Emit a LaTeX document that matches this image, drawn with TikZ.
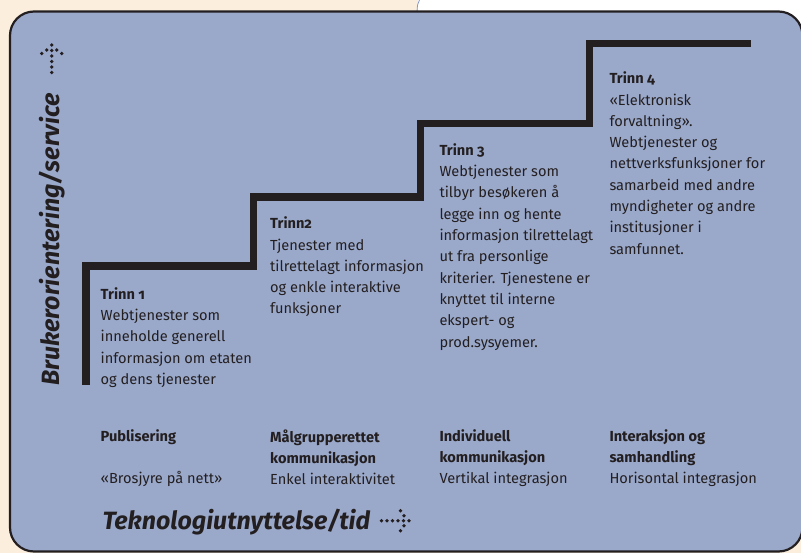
\documentclass[tikz,border=0pt]{standalone}
\usepackage{fontspec}
\setmainfont{Fira Sans}[Numbers=OldStyle]
\definecolor{inkc}{HTML}{231F20}
\definecolor{boxc}{HTML}{9AA8CA}
\definecolor{creamc}{HTML}{FBEEDC}
\definecolor{arcc}{HTML}{8598C8}
\begin{document}
\begin{tikzpicture}[x=1pt,y=-1pt,
  body/.style={anchor=north west, inner sep=0pt, align=left, text=inkc,
    font=\fontsize{14.6}{21.3}\selectfont},
  axislabel/.style={anchor=base west, inner sep=0pt, text=inkc,
    font=\fontsize{25}{30}\selectfont\bfseries\itshape},
  stair/.style={draw=inkc, line width=7.5pt, miter limit=4},
  dotarrow/.pic={
    \foreach \u/\v in {0/0,-5/5,-5/-5,-8.5/10,-8.5/-10,-5.5/0,-11/0,-16.5/0,-22/0,-27.5/0}
      \fill[inkc] (\u,\v) circle (1.9pt);
  }]
\useasboundingbox (0,0) rectangle (801,553);
% backdrop
\fill[creamc] (0,0) rectangle (801,553);
\fill[white] (418,0) rectangle (801,30);
\draw[arcc, line width=0.8pt] (419.5,0) .. controls (417.5,4) .. (417,12);
% panel
\draw[fill=boxc, draw=inkc, line width=2.2pt, rounded corners=24pt]
  (10,11.5) rectangle (802.5,551.5);
% staircase
\draw[stair] (86,385) |- (253.5,266) |- (420.5,197) |- (589.5,123.5) |- (751,43.5);
% step texts
\node[body] (t1) at (100.5,287.3) {\textbf{Trinn 1}\\Webtjenester som\\inneholde generell\\informasjon om etaten\\og dens tjenester};
\node[body] (t2) at (270,216.7) {\textbf{Trinn2}\\Tjenester med\\tilrettelagt informasjon\\og enkle interaktive\\funksjoner};
\node[body] (t3) at (439.3,143.3) {\textbf{Trinn 3}\\Webtjenester som\\tilbyr besøkeren å\\legge inn og hente\\informasjon tilrettelagt\\ut fra personlige\\kriterier. Tjenestene er\\knyttet til interne\\ekspert- og\\prod.sysyemer.};
\node[body] (t4) at (609.3,71.7) {\textbf{Trinn 4}\\«Elektronisk\\forvaltning».\\Webtjenester og\\nettverksfunksjoner for\\samarbeid med andre\\myndigheter og andre\\institusjoner i\\samfunnet.};
% bottom categories
\node[body] (c1) at (100.5,429.3) {\textbf{Publisering}\\\\«Brosjyre på nett»};
\node[body] (c2) at (270,429.3) {\textbf{Målgrupperettet}\\\textbf{kommunikasjon}\\Enkel interaktivitet};
\node[body] (c3) at (439.3,429.3) {\textbf{Individuell}\\\textbf{kommunikasjon}\\Vertikal integrasjon};
\node[body] (c4) at (609.3,429.3) {\textbf{Interaksjon og}\\\textbf{samhandling}\\Horisontal integrasjon};
% axes
\node[axislabel] (xl) at (102.3,529) {Teknologiutnyttelse/tid};
\pic at (409,520.7) {dotarrow};
\node[axislabel, rotate=90] (yl) at (59.5,386) {Brukerorientering/service};
\pic[rotate=90] at (51.7,45) {dotarrow};
\end{tikzpicture}
\end{document}
